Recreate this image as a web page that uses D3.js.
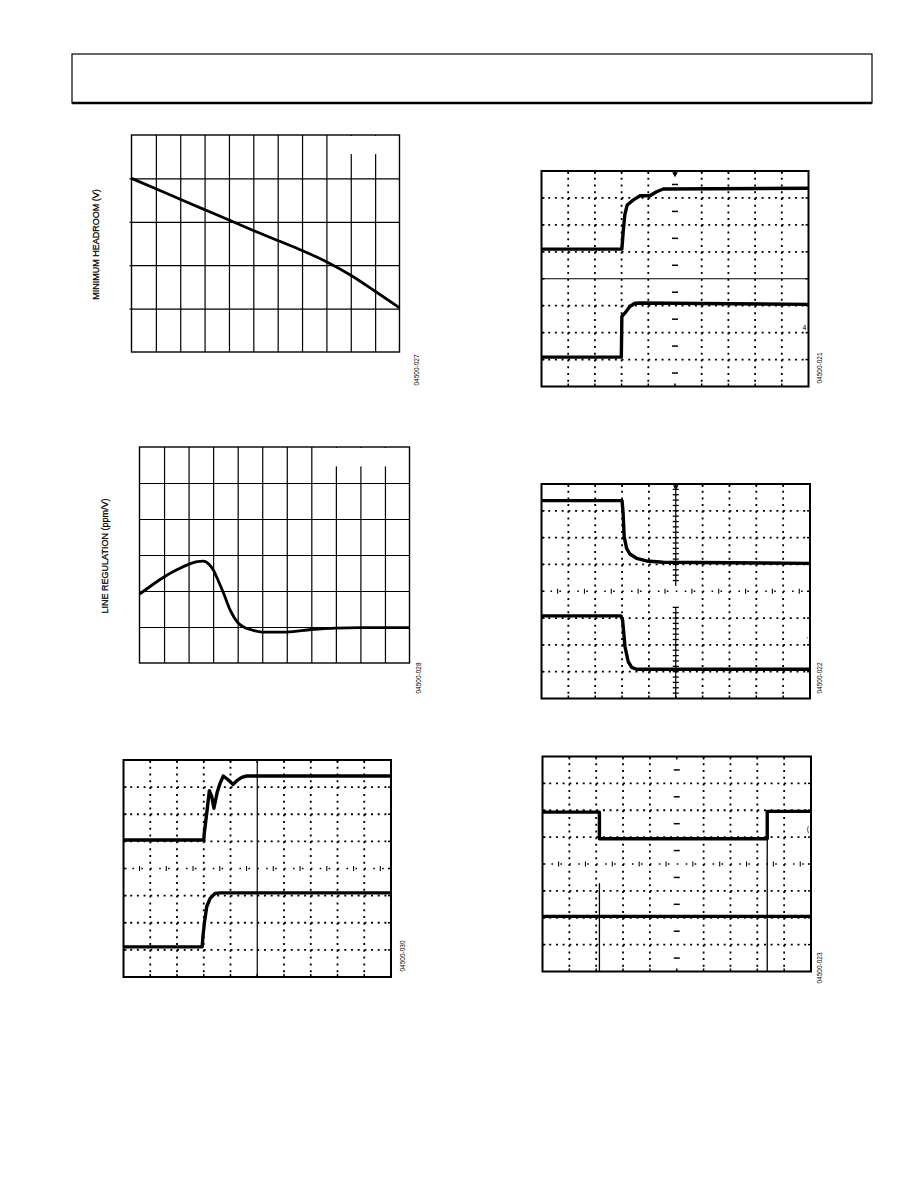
<!DOCTYPE html>
<html><head><meta charset="utf-8">
<script src="https://cdn.jsdelivr.net/npm/d3@7/dist/d3.min.js"></script>
<style>
html,body{margin:0;padding:0;background:#fff}
svg{display:block}
text{font-family:"Liberation Sans",Arial,Helvetica,sans-serif;fill:#000}
</style></head><body>
<svg id="page" width="918" height="1188" viewBox="0 0 918 1188"></svg>
<script>
// ---- Data (grid-division units) ----
// Chart 1: MINIMUM HEADROOM (V)
const headroomX = [0,1,2,3,4,5,6,7,8,9,10,11];
const headroomY = [4.00,3.76,3.52,3.28,3.04,2.80,2.57,2.34,2.08,1.77,1.40,1.02];
// Chart 2: LINE REGULATION (ppm/V)
const lineRegX = [0,0.5,1,1.5,2,2.3,2.6,2.85,3.02,3.2,3.43,3.7,4.02,4.3,4.52,5,6,7,8,9,10,11];
const lineRegY = [1.91,2.16,2.39,2.58,2.74,2.81,2.83,2.73,2.57,2.30,1.93,1.46,1.11,0.98,0.93,0.86,0.86,0.93,0.97,0.98,0.98,0.98];
// Scope 04500-030
const s030TopX = [0,3.00,3.02,3.11,3.21,3.30,3.38,3.50,3.61,3.73,3.90,4.10,4.25,4.42,4.60,10];
const s030TopY = [2.95,2.95,2.70,1.97,1.13,1.35,1.78,1.20,0.86,0.59,0.72,0.90,0.75,0.64,0.59,0.59];
const s030BotX = [0,2.94,2.97,3.02,3.11,3.24,3.42,3.60,10];
const s030BotY = [6.89,6.89,6.50,6.03,5.41,5.10,4.92,4.90,4.90];
// Scope 04500-021
const s021TopX = [0,3.01,3.06,3.12,3.21,3.43,3.69,4.06,4.31,4.56,10];
const s021TopY = [2.90,2.90,2.25,1.63,1.26,1.08,0.92,0.92,0.77,0.67,0.64];
const s021BotX = [0,2.99,3.01,3.12,3.31,3.50,3.70,10];
const s021BotY = [6.91,6.91,5.40,5.28,5.03,4.91,4.90,4.95];
// Scope 04500-022
const s022TopX = [0,3.00,3.04,3.08,3.17,3.29,3.54,3.91,4.53,10];
const s022TopY = [0.62,0.62,1.09,1.97,2.40,2.61,2.77,2.87,2.92,2.96];
const s022BotX = [0,2.96,3.02,3.11,3.23,3.36,3.54,10];
const s022BotY = [4.92,4.92,5.08,6.07,6.63,6.84,6.91,6.91];
// Scope 04500-023
const s023TopX = [0,2.12,2.12,8.37,8.37,10];
const s023TopY = [2.07,2.07,3.06,3.06,2.04,2.04];
const s023BotX = [0,10];
const s023BotY = [5.95,5.95];
const s023CursorX = [2.12,8.37];
const s023CursorTop = [4.71,2.04];
// Labels
const yLabels = ["MINIMUM HEADROOM (V)","LINE REGULATION (ppm/V)"];
const figIds = ["04500-027","04500-028","04500-030","04500-021","04500-022","04500-023"];

const zip = (a,b)=>a.map((v,i)=>[v,b[i]]);
const svg = d3.select("#page");

// header box
svg.append("rect").attr("x",72).attr("y",54).attr("width",800).attr("height",49)
  .attr("fill","none").attr("stroke","#000").attr("stroke-width",1.2);
svg.append("line").attr("x1",72).attr("x2",872).attr("y1",103).attr("y2",103)
  .attr("stroke","#000").attr("stroke-width",2.6);

function idLabel(txt,cx,cy){
  svg.append("text").attr("transform",`translate(${cx},${cy}) rotate(-90)`)
    .attr("text-anchor","middle").attr("dominant-baseline","middle")
    .attr("font-size",6.5).text(txt);
}

function plotChart(c){
  const x = d3.scaleLinear().domain([0,c.cols]).range([c.x0,c.x1]);
  const y = d3.scaleLinear().domain([0,c.rows]).range([c.y1,c.y0]);
  const g = svg.append("g");
  const h = c.y1-c.y0, w = c.x1-c.x0;
  g.append("g").attr("transform",`translate(0,${c.y1})`)
    .call(d3.axisBottom(x).tickValues(d3.range(1,c.cols)).tickSize(-h).tickFormat(""))
    .call(a=>a.select(".domain").remove())
    .selectAll("line").attr("stroke","#000").attr("stroke-width",1.2);
  g.append("g").attr("transform",`translate(${c.x0},0)`)
    .call(d3.axisLeft(y).tickValues(d3.range(1,c.rows)).tickSize(c.leftTick?2:0).tickFormat(""))
    .call(a=>a.select(".domain").remove())
    .selectAll("line").attr("stroke","#000").attr("stroke-width",1.2);
  g.append("g").attr("transform",`translate(${c.x0},0)`)
    .call(d3.axisRight(y).tickValues(d3.range(1,c.rows)).tickSize(w).tickFormat(""))
    .call(a=>a.select(".domain").remove())
    .selectAll("line").attr("stroke","#000").attr("stroke-width",1.2);
  // blank legend area
  g.append("rect").attr("x",x(c.blank[0])).attr("width",x(c.blank[1])-x(c.blank[0]))
    .attr("y",y(c.rows)+1).attr("height",y(c.blank[2])-y(c.rows)-1).attr("fill","#fff");
  g.append("path").datum(zip(c.xs,c.ys))
    .attr("d",d3.line().x(d=>x(d[0])).y(d=>y(d[1])).curve(d3.curveMonotoneX))
    .attr("fill","none").attr("stroke","#000").attr("stroke-width",2.8).attr("stroke-linejoin","round");
  g.append("rect").attr("x",c.x0).attr("y",c.y0).attr("width",w).attr("height",h)
    .attr("fill","none").attr("stroke","#000").attr("stroke-width",1.4);
  g.append("text").attr("transform",`translate(${c.lx},${(c.y0+c.y1)/2+1}) rotate(-90)`)
    .attr("text-anchor","middle").attr("dominant-baseline","middle")
    .attr("font-size",9).attr("stroke","#000").attr("stroke-width",0.25).text(c.label);
}

plotChart({x0:131.5,x1:399.5,y0:135,y1:352,cols:11,rows:5,xs:headroomX,ys:headroomY,
  label:yLabels[0],lx:97,leftTick:true,blank:[8.78,10.22,4.56]});
plotChart({x0:139.5,x1:409.5,y0:447,y1:663,cols:11,rows:6,xs:lineRegX,ys:lineRegY,
  label:yLabels[1],lx:106,leftTick:false,blank:[7.8,10.2,5.46]});

function scope(c){
  const x = d3.scaleLinear().domain([0,10]).range([c.x0,c.x1]);
  const y = d3.scaleLinear().domain([0,8]).range([c.y0,c.y1]);
  const dw=(c.x1-c.x0)/10, dh=(c.y1-c.y0)/8;
  const g = svg.append("g");
  const K="#000";
  const vIdx = d3.range(1,10).filter(i=>i!==5);
  const hIdx = d3.range(1,8).filter(j=>j!==4);
  g.selectAll("line.gv").data(vIdx).join("line").attr("class","gv")
    .attr("x1",d=>x(d)).attr("x2",d=>x(d)).attr("y1",y(0)).attr("y2",y(8))
    .attr("stroke",K).attr("stroke-width",1.8).attr("stroke-dasharray",`2,${(dh/4-2).toFixed(2)}`);
  g.selectAll("line.gh").data(hIdx).join("line").attr("class","gh")
    .attr("y1",d=>y(d)).attr("y2",d=>y(d)).attr("x1",x(0)).attr("x2",x(10))
    .attr("stroke",K).attr("stroke-width",1.8).attr("stroke-dasharray",`2,${(dw/4-2).toFixed(2)}`);
  // centre vertical
  if(c.cv==="solid"){
    g.append("line").attr("x1",x(5)).attr("x2",x(5)).attr("y1",y(0)).attr("y2",y(8)).attr("stroke",K).attr("stroke-width",1.2);
  } else if(c.cv==="dashes"){
    g.selectAll("line.cvd").data(d3.range(0,8).map(k=>k+0.5)).join("line").attr("class","cvd")
      .attr("x1",x(5)-3).attr("x2",x(5)+3).attr("y1",d=>y(d)).attr("y2",d=>y(d)).attr("stroke",K).attr("stroke-width",1.5);
  } else if(c.cv==="dense"){
    [[0,3.8],[4.6,8]].forEach(r=>{
      g.append("line").attr("x1",x(5)).attr("x2",x(5)).attr("y1",y(r[0])).attr("y2",y(r[1])).attr("stroke",K).attr("stroke-width",1.2);
    });
    const tk = d3.range(1,40).map(k=>k*0.2).filter(v=>v<3.8||v>4.6);
    g.selectAll("line.cvt").data(tk).join("line").attr("class","cvt")
      .attr("x1",x(5)-3).attr("x2",x(5)+3).attr("y1",d=>y(d)).attr("y2",d=>y(d)).attr("stroke",K).attr("stroke-width",1.3);
  }
  // centre horizontal
  if(c.ch==="solid"){
    g.append("line").attr("x1",x(0)).attr("x2",x(10)).attr("y1",y(4)).attr("y2",y(4)).attr("stroke",K).attr("stroke-width",1.2);
  } else {
    g.append("line").attr("x1",x(0)).attr("x2",x(10)).attr("y1",y(4)).attr("y2",y(4))
      .attr("stroke",K).attr("stroke-width",1.6).attr("stroke-dasharray",`1.6,${(dw/3-1.6).toFixed(2)}`);
    g.selectAll("line.cht").data(d3.range(0,10).map(k=>k+0.6)).join("line").attr("class","cht")
      .attr("x1",d=>x(d)).attr("x2",d=>x(d)).attr("y1",y(4)-2.5).attr("y2",y(4)+2.5).attr("stroke",K).attr("stroke-width",1.1);
  }
  // border ticks
  g.selectAll("line.bt").data(d3.range(1,10)).join("line").attr("class","bt")
    .attr("x1",d=>x(d)).attr("x2",d=>x(d)).attr("y1",y(0)).attr("y2",y(0)+3).attr("stroke",K).attr("stroke-width",1.5);
  g.selectAll("line.bb").data(d3.range(1,10)).join("line").attr("class","bb")
    .attr("x1",d=>x(d)).attr("x2",d=>x(d)).attr("y1",y(8)).attr("y2",y(8)-3).attr("stroke",K).attr("stroke-width",1.5);
  g.selectAll("line.bl").data(d3.range(1,8)).join("line").attr("class","bl")
    .attr("y1",d=>y(d)).attr("y2",d=>y(d)).attr("x1",x(0)).attr("x2",x(0)+3).attr("stroke",K).attr("stroke-width",1.5);
  g.selectAll("line.br").data(d3.range(1,8)).join("line").attr("class","br")
    .attr("y1",d=>y(d)).attr("y2",d=>y(d)).attr("x1",x(10)).attr("x2",x(10)-3).attr("stroke",K).attr("stroke-width",1.5);
  if(c.trig){
    g.append("path").attr("d",d3.symbol(d3.symbolTriangle,14)()).attr("transform",`translate(${x(5)},${y(0)+3}) rotate(180)`).attr("fill",K);
  }
  // cursors
  if(c.cursors){
    g.selectAll("line.cur").data(c.cursors).join("line").attr("class","cur")
      .attr("x1",d=>x(d[0])).attr("x2",d=>x(d[0])).attr("y1",d=>y(d[1])).attr("y2",y(8)).attr("stroke",K).attr("stroke-width",1.3);
  }
  // traces
  const ln = d3.line().x(d=>x(d[0])).y(d=>y(d[1]));
  c.traces.forEach(t=>{
    g.append("path").datum(t).attr("d",ln).attr("fill","none").attr("stroke",K)
      .attr("stroke-width",3.4).attr("stroke-linejoin","round");
  });
  if(c.marker){
    g.append("text").attr("x",x(10)-2).attr("y",y(c.marker[1])).attr("text-anchor","end")
      .attr("dominant-baseline","middle").attr("font-size",7).text(c.marker[0]);
  }
  g.append("rect").attr("x",c.x0).attr("y",c.y0).attr("width",c.x1-c.x0).attr("height",c.y1-c.y0)
    .attr("fill","none").attr("stroke",K).attr("stroke-width",2);
}

scope({x0:123.5,x1:391,y0:760,y1:977,cv:"solid",ch:"ticked",
  traces:[zip(s030TopX,s030TopY),zip(s030BotX,s030BotY)]});
scope({x0:541.5,x1:808.5,y0:171,y1:386.5,cv:"dashes",ch:"solid",trig:true,marker:["4",5.83],
  traces:[zip(s021TopX,s021TopY),zip(s021BotX,s021BotY)]});
scope({x0:541.5,x1:810,y0:484,y1:698.5,cv:"dense",ch:"ticked",trig:true,marker:["'",5.82],
  traces:[zip(s022TopX,s022TopY),zip(s022BotX,s022BotY)]});
scope({x0:542.5,x1:811,y0:756.5,y1:971.5,cv:"dashes",ch:"ticked",marker:["(",2.69],
  cursors:zip(s023CursorX,s023CursorTop),
  traces:[zip(s023TopX,s023TopY),zip(s023BotX,s023BotY)]});

idLabel(figIds[0],417,370);
idLabel(figIds[1],419,678);
idLabel(figIds[2],403,956);
idLabel(figIds[3],820,368);
idLabel(figIds[4],820,678);
idLabel(figIds[5],820,968);
</script>
</body></html>
